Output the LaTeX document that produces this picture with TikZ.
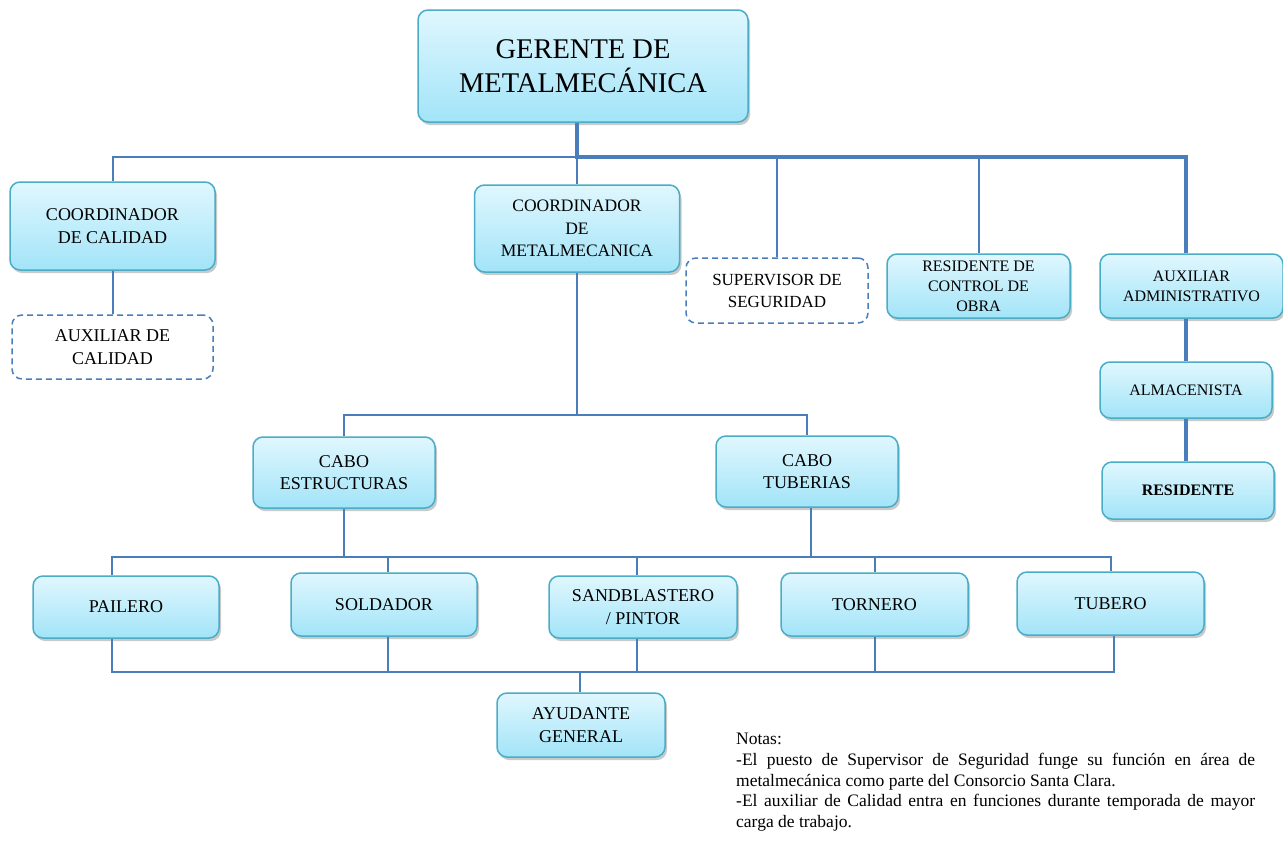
\documentclass[tikz,border=0pt]{standalone}
\usepackage{fontspec}
\setmainfont{Liberation Serif}
\newfontfamily\tnr{Liberation Serif}
\usetikzlibrary{shadows}
\definecolor{linec}{HTML}{4A7EBB}
\definecolor{boxborder}{HTML}{4BACC6}
\definecolor{boxtop}{HTML}{E0F7FE}
\definecolor{boxbot}{HTML}{A2E4F8}
\tikzset{
  box/.style={draw=boxborder, line width=1.5pt, rounded corners=10pt,
    top color=boxtop, bottom color=boxbot,
    drop shadow={shadow xshift=2pt, shadow yshift=-3pt, opacity=0.35, fill=black!60},
    align=center, inner sep=0pt, font=\tnr\fontsize{18}{22.5}\selectfont},
  dbox/.style={draw=linec, line width=1.5pt, dash pattern=on 6pt off 4pt,
    rounded corners=10pt, fill=white, align=center, inner sep=0pt,
    font=\tnr\fontsize{18}{22.5}\selectfont},
  small/.style={font=\tnr\fontsize{16}{20}\selectfont},
  thinln/.style={draw=linec, line width=2pt},
  thickln/.style={draw=linec, line width=4pt},
}
\begin{document}
\begin{tikzpicture}[x=1pt,y=-1pt]
\useasboundingbox (0,0) rectangle (1283,841);
% nodes
\node[box, minimum width=330pt, minimum height=112pt, font=\tnr\fontsize{28.5}{34}\selectfont] (ger) at (583,66) {GERENTE DE\\METALMECÁNICA};
\node[box, minimum width=205pt, minimum height=88pt] (cc) at (112.5,226) {COORDINADOR\\DE CALIDAD};
\node[dbox, minimum width=201pt, minimum height=64pt] (ac) at (112.5,347) {AUXILIAR DE\\CALIDAD};
\node[box, minimum width=205pt, minimum height=87pt, font=\tnr\fontsize{17.5}{22.5}\selectfont] (cm) at (577,228.5) {COORDINADOR\\DE\\METALMECANICA};
\node[dbox, minimum width=182pt, minimum height=65pt, font=\tnr\fontsize{17}{22}\selectfont] (ss) at (777,290.5) {SUPERVISOR DE\\SEGURIDAD};
\node[box, small, minimum width=183pt, minimum height=64pt] (rc) at (978.5,286) {RESIDENTE DE\\CONTROL DE\\OBRA};
\node[box, small, minimum width=183pt, minimum height=64pt] (aa) at (1191.5,286) {AUXILIAR\\ADMINISTRATIVO};
\node[box, small, minimum width=172pt, minimum height=56pt] (alm) at (1186,390) {ALMACENISTA};
\node[box, small, minimum width=172pt, minimum height=57pt] (res) at (1188,490.5) {\textbf{RESIDENTE}};
\node[box, minimum width=182pt, minimum height=71pt] (ce) at (344,472.5) {CABO\\ESTRUCTURAS};
\node[box, minimum width=182pt, minimum height=71pt] (ct) at (807,471.5) {CABO\\TUBERIAS};
\node[box, minimum width=186pt, minimum height=62pt] (pa) at (126,607) {PAILERO};
\node[box, minimum width=186pt, minimum height=63pt] (so) at (384,604.5) {SOLDADOR};
\node[box, minimum width=188pt, minimum height=62pt] (sb) at (643,607) {SANDBLASTERO\\/ PINTOR};
\node[box, minimum width=187pt, minimum height=63pt] (to) at (874.5,604.5) {TORNERO};
\node[box, minimum width=187pt, minimum height=63pt] (tu) at (1110.5,603.5) {TUBERO};
\node[box, minimum width=168pt, minimum height=64pt] (ay) at (581,725) {AYUDANTE\\GENERAL};
% notes
\node[anchor=north west, inner sep=0pt, align=left, font=\tnr\fontsize{17.5}{20.7}\selectfont] (notes) at (736,733)
 {Notas:\\
  \makebox[519pt][s]{-El puesto de Supervisor de Seguridad funge su función en área de}\\
  metalmecánica como parte del Consorcio Santa Clara.\\
  \makebox[519pt][s]{-El auxiliar de Calidad entra en funciones durante temporada de mayor}\\
  carga de trabajo.};
% coordinates for buses
\coordinate (bus) at (577,157);
\coordinate (b2) at (577,415);
\coordinate (b3) at (0,557);
\coordinate (b4) at (0,672);
% level 1 thin lines
\draw[thinln] (bus) -| (cc.north);
\draw[thinln] (bus) -- (cm.north);
\draw[thinln] (bus -| ss.north) -- (ss.north);
\draw[thinln] (bus -| rc.north) -- (rc.north);
\draw[thinln] (cc.south) -- (ac.north);
% thick main line
\draw[thickln] (ger.south -| bus) -- (bus) -| (alm.north |- aa.north);
\draw[thickln] (aa.south -| alm.north) -- (alm.north);
\draw[thickln] (alm.south) -- (alm.south |- res.north);
% coordinator to cabos
\draw[thinln] (cm.south) -- (b2);
\draw[thinln] (ce.north) |- (b2) -| (ct.north);
% cabos to workers
\draw[thinln] ([xshift=-14pt]pa.north) |- (b3 -| tu.north) -- (tu.north);
\draw[thinln] (ce.south) -- (ce.south |- b3);
\draw[thinln] ([xshift=4pt]ct.south) -- ([xshift=4pt]ct.south |- b3);
\draw[thinln] ([xshift=4pt]so.north) -- ([xshift=4pt]so.north |- b3);
\draw[thinln] ([xshift=-6pt]sb.north) -- ([xshift=-6pt]sb.north |- b3);
\draw[thinln] (to.north) -- (to.north |- b3);
% workers to ayudante
\draw[thinln] ([xshift=-14pt]pa.south) |- ([xshift=3pt]b4 -| tu.south) -- ([xshift=3pt]tu.south);
\draw[thinln] ([xshift=4pt]so.south) -- ([xshift=4pt]so.south |- b4);
\draw[thinln] ([xshift=-6pt]sb.south) -- ([xshift=-6pt]sb.south |- b4);
\draw[thinln] (to.south) -- (to.south |- b4);
\draw[thinln] ([xshift=-1pt]ay.north |- b4) -- ([xshift=-1pt]ay.north);
\end{tikzpicture}
\end{document}
